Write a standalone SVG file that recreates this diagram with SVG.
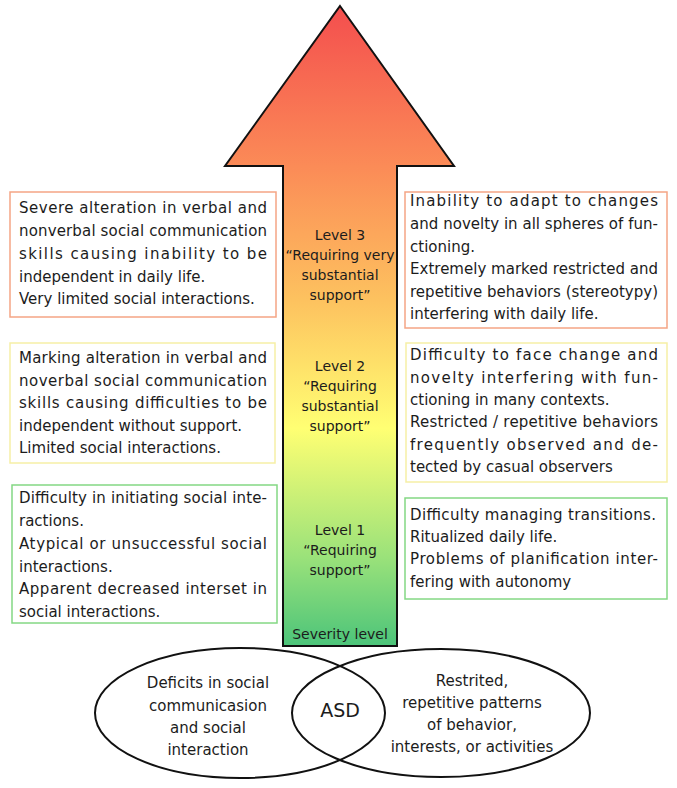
<svg xmlns="http://www.w3.org/2000/svg" width="677" height="788" viewBox="0 0 677 788">
<style>
text{font-family:"DejaVu Sans","Verdana",sans-serif;fill:#1c1c1c;}
.b{font-size:15px;}
.a{font-size:14px;text-anchor:middle;}
.e{font-size:15px;text-anchor:middle;}
.box{fill:#fff;stroke-width:1.5;}
.o{stroke:#f5a585;}
.y{stroke:#f6efa6;}
.g{stroke:#84d884;}
.ell{fill:none;stroke:#111;stroke-width:2;}
</style>
<defs>
<linearGradient id="grad" gradientUnits="userSpaceOnUse" x1="0" y1="6" x2="0" y2="646">
<stop offset="0" stop-color="#f44e4e"/>
<stop offset="0.25" stop-color="#fb8b57"/>
<stop offset="0.46" stop-color="#fdc25f"/>
<stop offset="0.66" stop-color="#ffff73"/>
<stop offset="0.86" stop-color="#9be27a"/>
<stop offset="1" stop-color="#4cc47a"/>
</linearGradient>
</defs>
<rect width="677" height="788" fill="#fff"/>

<g id="arrow">
<polygon points="340,6 454,166 397,166 397,646 283,646 283,166 225,166" fill="url(#grad)" stroke="#111" stroke-width="2" stroke-linejoin="miter"/>
<text class="a" x="340" y="240">Level 3</text>
<text class="a" x="340" y="260">“Requiring very</text>
<text class="a" x="340" y="280">substantial</text>
<text class="a" x="340" y="300">support”</text>
<text class="a" x="340" y="371">Level 2</text>
<text class="a" x="340" y="391">“Requiring</text>
<text class="a" x="340" y="411">substantial</text>
<text class="a" x="340" y="431">support”</text>
<text class="a" x="340" y="535">Level 1</text>
<text class="a" x="340" y="555">“Requiring</text>
<text class="a" x="340" y="575">support”</text>
<text class="a" x="340" y="639">Severity level</text>
</g>

<g id="left3">
<rect class="box o" x="10" y="192" width="266" height="125"/>
<text class="b" x="19" y="213" textLength="248" lengthAdjust="spacing">Severe alteration in verbal and</text>
<text class="b" x="19" y="236" textLength="248" lengthAdjust="spacing">nonverbal social communication</text>
<text class="b" x="19" y="259" textLength="248" lengthAdjust="spacing">skills causing inability to be</text>
<text class="b" x="19" y="282">independent in daily life.</text>
<text class="b" x="19" y="304">Very limited social interactions.</text>
</g>

<g id="left2">
<rect class="box y" x="10" y="343" width="265" height="120"/>
<text class="b" x="19" y="363" textLength="248" lengthAdjust="spacing">Marking alteration in verbal and</text>
<text class="b" x="19" y="386" textLength="248" lengthAdjust="spacing">noverbal social communication</text>
<text class="b" x="19" y="408" textLength="248" lengthAdjust="spacing">skills causing difficulties to be</text>
<text class="b" x="19" y="431">independent without support.</text>
<text class="b" x="19" y="453">Limited social interactions.</text>
</g>

<g id="left1">
<rect class="box g" x="12" y="485" width="265" height="138"/>
<text class="b" x="19" y="503" textLength="248" lengthAdjust="spacing">Difficulty in initiating social inte-</text>
<text class="b" x="19" y="526">ractions.</text>
<text class="b" x="19" y="549" textLength="248" lengthAdjust="spacing">Atypical or unsuccessful social</text>
<text class="b" x="19" y="572">interactions.</text>
<text class="b" x="19" y="594" textLength="248" lengthAdjust="spacing">Apparent decreased interset in</text>
<text class="b" x="19" y="617">social interactions.</text>
</g>

<g id="right3">
<rect class="box o" x="405" y="192" width="262" height="136"/>
<text class="b" x="410" y="206" textLength="248" lengthAdjust="spacing">Inability to adapt to changes</text>
<text class="b" x="410" y="229" textLength="248" lengthAdjust="spacing">and novelty in all spheres of fun-</text>
<text class="b" x="410" y="252">ctioning.</text>
<text class="b" x="410" y="274" textLength="248" lengthAdjust="spacing">Extremely marked restricted and</text>
<text class="b" x="410" y="297" textLength="248" lengthAdjust="spacing">repetitive behaviors (stereotypy)</text>
<text class="b" x="410" y="319">interfering with daily life.</text>
</g>

<g id="right2">
<rect class="box y" x="406" y="343" width="261" height="139"/>
<text class="b" x="410" y="360" textLength="248" lengthAdjust="spacing">Difficulty to face change and</text>
<text class="b" x="410" y="383" textLength="248" lengthAdjust="spacing">novelty interfering with fun-</text>
<text class="b" x="410" y="405">ctioning in many contexts.</text>
<text class="b" x="410" y="427" textLength="248" lengthAdjust="spacing">Restricted / repetitive behaviors</text>
<text class="b" x="410" y="450" textLength="248" lengthAdjust="spacing">frequently observed and de-</text>
<text class="b" x="410" y="472">tected by casual observers</text>
</g>

<g id="right1">
<rect class="box g" x="405" y="498" width="262" height="101"/>
<text class="b" x="410" y="520" textLength="246" lengthAdjust="spacing">Difficulty managing transitions.</text>
<text class="b" x="410" y="542">Ritualized daily life.</text>
<text class="b" x="410" y="564" textLength="248" lengthAdjust="spacing">Problems of planification inter-</text>
<text class="b" x="410" y="587">fering with autonomy</text>
</g>

<g id="ellipse-left">
<ellipse class="ell" cx="240" cy="713" rx="145" ry="65"/>
<text class="e" x="208" y="688">Deficits in social</text>
<text class="e" x="208" y="711">communicasion</text>
<text class="e" x="208" y="733">and social</text>
<text class="e" x="208" y="755">interaction</text>
</g>

<g id="ellipse-right">
<ellipse class="ell" cx="441" cy="713" rx="149" ry="64"/>
<text class="e" x="472" y="686">Restrited,</text>
<text class="e" x="472" y="708">repetitive patterns</text>
<text class="e" x="472" y="730">of behavior,</text>
<text class="e" x="472" y="752">interests, or activities</text>
</g>

<g id="asd">
<text x="340" y="717" style="font-size:19px;text-anchor:middle;">ASD</text>
</g>
</svg>
